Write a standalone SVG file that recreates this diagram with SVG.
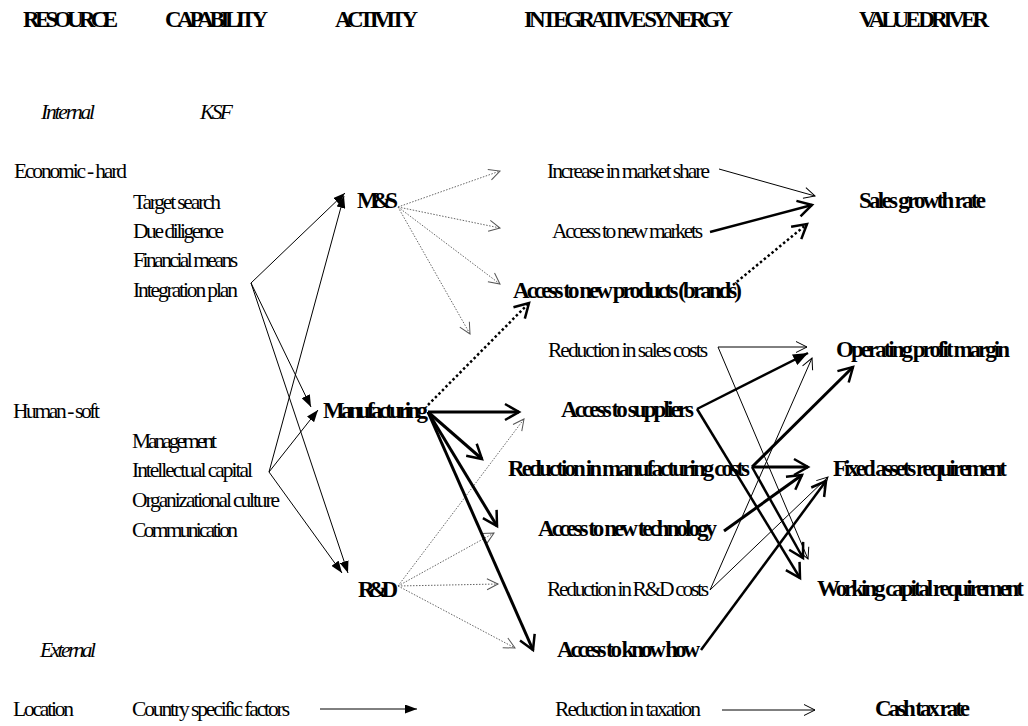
<svg xmlns="http://www.w3.org/2000/svg" width="1028" height="726" viewBox="0 0 1028 726">
<defs>
<style>
text{font-family:"Liberation Serif","Times New Roman",serif;fill:#000}
.h{font-size:23px;font-weight:bold}
.r{font-size:21.5px}
.b{font-size:23px;font-weight:bold}
.i{font-size:21.5px;font-style:italic}
.thin{stroke:#000;stroke-width:1;fill:none}
.gray{stroke:#666;stroke-width:1;stroke-dasharray:1.5 1.5;fill:none}
.dot{stroke:#000;stroke-width:2.5;stroke-dasharray:2.5 2.5;fill:none}
.med{stroke:#000;stroke-width:2.5;fill:none}
.thk{stroke:#000;stroke-width:3;fill:none}
</style>
<marker id="fa" markerUnits="userSpaceOnUse" viewBox="0 0 12 9" markerWidth="12" markerHeight="9" refX="12" refY="4.5" orient="auto"><path d="M0,0L12,4.5L0,9z" fill="#000"/></marker>
<marker id="ffk" markerUnits="userSpaceOnUse" viewBox="0 0 15 12" markerWidth="15" markerHeight="12" refX="15" refY="6" orient="auto"><path d="M0,0L15,6L0,12z" fill="#000"/></marker>
<marker id="ot" markerUnits="userSpaceOnUse" viewBox="-2 -2 16 16" markerWidth="16" markerHeight="16" refX="11" refY="5.5" orient="auto" overflow="visible"><path d="M0,0L11,5.5L0,11" fill="none" stroke="#000" stroke-width="1"/></marker>
<marker id="og" markerUnits="userSpaceOnUse" viewBox="-2 -2 16 16" markerWidth="16" markerHeight="16" refX="11" refY="5.5" orient="auto" overflow="visible"><path d="M0,0L11,5.5L0,11" fill="none" stroke="#555" stroke-width="1"/></marker>
<marker id="otk" markerUnits="userSpaceOnUse" viewBox="-3 -3 22 22" markerWidth="22" markerHeight="22" refX="14" refY="8" orient="auto" overflow="visible"><path d="M0,0L14,8L0,16" fill="none" stroke="#000" stroke-width="2.5"/></marker>
</defs>
<rect width="1028" height="726" fill="#fff"/>

<g id="headers">
<text class="h" x="23" y="27" textLength="95">RESOURCE</text>
<text class="h" x="165" y="27" textLength="103">CAPABILITY</text>
<text class="h" x="335" y="27" textLength="83">ACTIVITY</text>
<text class="h" x="524" y="27" textLength="209">INTEGRATIVE SYNERGY</text>
<text class="h" x="859" y="27" textLength="130">VALUE DRIVER</text>
</g>

<g id="n-internal"><text class="i" x="41" y="119" textLength="54">Internal</text></g>
<g id="n-ksf"><text class="i" x="200" y="119" textLength="33">KSF</text></g>
<g id="n-economic"><text class="r" x="14" y="178" textLength="113">Economic - hard</text></g>
<g id="n-target"><text class="r" x="133" y="209" textLength="88">Target search</text></g>
<g id="n-due"><text class="r" x="133" y="238" textLength="91">Due diligence</text></g>
<g id="n-financial"><text class="r" x="133" y="267" textLength="105">Financial means</text></g>
<g id="n-integration"><text class="r" x="133" y="297" textLength="105">Integration plan</text></g>
<g id="n-ms"><text class="b" x="357" y="208" textLength="41">M&amp;S</text></g>
<g id="n-human"><text class="r" x="13" y="418" textLength="87">Human - soft</text></g>
<g id="n-manufacturing"><text class="b" x="323" y="418" textLength="105">Manufacturing</text></g>
<g id="n-management"><text class="r" x="132" y="448" textLength="85">Management</text></g>
<g id="n-intellectual"><text class="r" x="132" y="477" textLength="121">Intellectual capital</text></g>
<g id="n-organizational"><text class="r" x="132" y="507" textLength="148">Organizational culture</text></g>
<g id="n-communication"><text class="r" x="132" y="537" textLength="106">Communication</text></g>
<g id="n-rd"><text class="b" x="358" y="597" textLength="40">R&amp;D</text></g>
<g id="n-external"><text class="i" x="40" y="657" textLength="56">External</text></g>
<g id="n-location"><text class="r" x="13" y="716" textLength="61">Location</text></g>
<g id="n-country"><text class="r" x="132" y="716" textLength="158">Country specific factors</text></g>

<g id="n-increase"><text class="r" x="547" y="178" textLength="163">Increase in market share</text></g>
<g id="n-newmarkets"><text class="r" x="552" y="238" textLength="151">Access to new markets</text></g>
<g id="n-newproducts"><text class="b" x="513" y="298" textLength="229">Access to new products (brands)</text></g>
<g id="n-salescosts"><text class="r" x="548" y="357" textLength="160">Reduction in sales costs</text></g>
<g id="n-suppliers"><text class="b" x="561" y="417" textLength="133">Access to suppliers</text></g>
<g id="n-mfgcosts"><text class="b" x="508" y="476" textLength="242">Reduction in manufacturing costs</text></g>
<g id="n-newtech"><text class="b" x="538" y="536" textLength="179">Access to new technology</text></g>
<g id="n-rdcosts"><text class="r" x="547" y="596" textLength="162">Reduction in R&amp;D costs</text></g>
<g id="n-knowhow"><text class="b" x="557" y="657" textLength="143">Access to know how</text></g>
<g id="n-taxation"><text class="r" x="555" y="716" textLength="146">Reduction in taxation</text></g>

<g id="n-salesgrowth"><text class="b" x="859" y="208" textLength="127">Sales growth rate</text></g>
<g id="n-opm"><text class="b" x="836" y="357" textLength="174">Operating profit margin</text></g>
<g id="n-far"><text class="b" x="833" y="476" textLength="174">Fixed assets requirement</text></g>
<g id="n-wcr"><text class="b" x="817" y="596" textLength="207">Working capital requirement</text></g>
<g id="n-cashtax"><text class="b" x="875" y="716" textLength="95">Cash tax rate</text></g>

<g id="connectors">
<path class="thin" marker-end="url(#fa)" d="M251,283L345,193"/>
<path class="thin" marker-end="url(#fa)" d="M251,283L311,407"/>
<path class="thin" marker-end="url(#fa)" d="M251,283L348,573"/>
<path class="thin" marker-end="url(#fa)" d="M269,472L344,196"/>
<path class="thin" marker-end="url(#fa)" d="M269,472L318,410"/>
<path class="thin" marker-end="url(#fa)" d="M269,472L342,573"/>
<path class="thin" marker-end="url(#fa)" d="M320,709L417,709"/>

<path class="gray" marker-end="url(#og)" d="M398,207L500,171"/>
<path class="gray" marker-end="url(#og)" d="M398,207L500,228"/>
<path class="gray" marker-end="url(#og)" d="M398,207L500,284"/>
<path class="gray" marker-end="url(#og)" d="M398,207L470,334"/>

<path class="gray" marker-end="url(#og)" d="M398,586L524,419"/>
<path class="gray" marker-end="url(#og)" d="M398,586L494,533"/>
<path class="gray" marker-end="url(#og)" d="M398,586L498,584"/>
<path class="gray" marker-end="url(#og)" d="M398,586L515,648"/>

<path class="dot" marker-end="url(#otk)" d="M428,405L529,303"/>
<path class="dot" marker-end="url(#otk)" d="M733,285L807,224"/>

<path class="thin" marker-end="url(#ot)" d="M719,169L815,196"/>
<path class="med" marker-end="url(#otk)" d="M710,232L812,205"/>

<path class="thk" marker-end="url(#otk)" d="M428,412L519,412"/>
<path class="thk" marker-end="url(#otk)" d="M428,412L482,459"/>
<path class="thk" marker-end="url(#otk)" d="M428,412L497,526"/>
<path class="thk" marker-end="url(#otk)" d="M428,412L533,650"/>

<path class="thin" marker-end="url(#ot)" d="M718,347L807,347"/>
<path class="thin" marker-end="url(#ot)" d="M718,347L808,559"/>
<path class="med" marker-end="url(#ffk)" d="M697,409L808,353"/>
<path class="med" marker-end="url(#otk)" d="M697,409L800,578"/>
<path class="thk" marker-end="url(#otk)" d="M752,467L853,367"/>
<path class="thk" marker-end="url(#otk)" d="M752,467L808,467"/>
<path class="med" marker-end="url(#otk)" d="M752,467L803,558"/>
<path class="thk" marker-end="url(#otk)" d="M724,531L802,475"/>
<path class="thin" marker-end="url(#ot)" d="M710,590L812,358"/>
<path class="thin" marker-end="url(#ot)" d="M710,590L828,477"/>
<path class="med" marker-end="url(#otk)" d="M701,650L826,481"/>
<path class="thin" marker-end="url(#ot)" d="M722,710L815,710"/>
</g>
</svg>
